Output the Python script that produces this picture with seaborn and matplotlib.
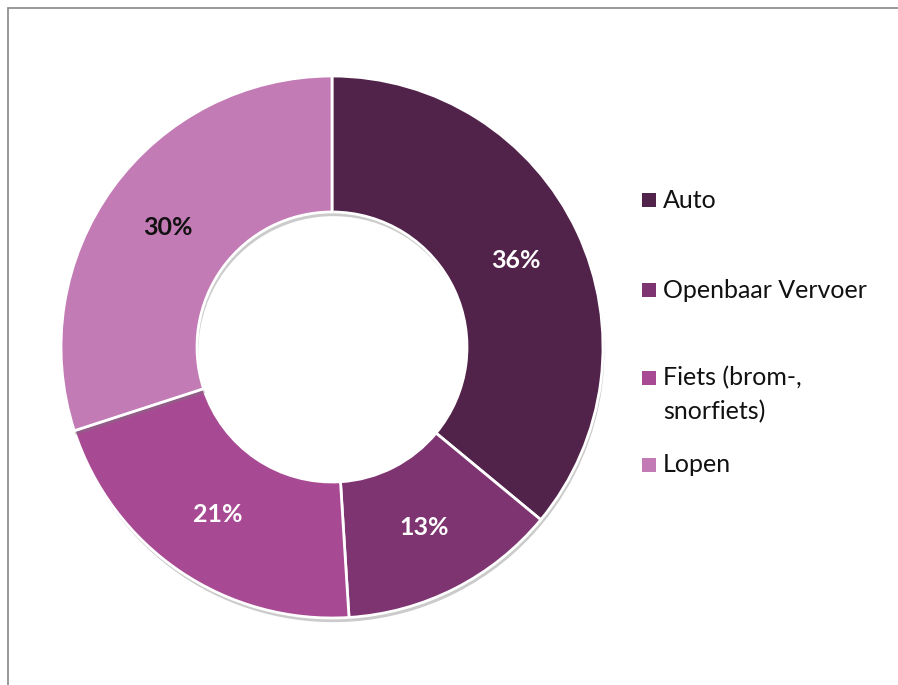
import matplotlib
matplotlib.use("Agg")
import matplotlib.pyplot as plt
import matplotlib.patheffects as pe
from matplotlib.patches import Rectangle
from matplotlib.lines import Line2D
import seaborn as sns

# Vervoerswijze verdeling
categories = ["Auto", "Openbaar Vervoer", "Fiets (brom-,\nsnorfiets)", "Lopen"]
shares = [36, 13, 21, 30]
colors = ["#52234A", "#7E3470", "#A84A93", "#C27BB4"]
label_colors = ["white", "white", "white", "#111111"]

sns.set_theme(style="white")
plt.rcParams["font.family"] = ["Lato", "DejaVu Sans"]

W, H = 898, 685
fig = plt.figure(figsize=(W / 100, H / 100), dpi=100)
ax = fig.add_axes([0, 0, 1, 1])

cx, cy = 332, H - 347
R = 271
ring = 136

wedges, _, autotexts = ax.pie(
    shares,
    colors=colors,
    startangle=90,
    counterclock=False,
    center=(cx, cy),
    radius=R,
    autopct=lambda p: f"{p:.0f}%",
    pctdistance=(R - ring / 2) / R,
    wedgeprops=dict(width=ring, edgecolor="white", linewidth=2),
    textprops=dict(fontsize=18, fontweight="bold"),
)
ax.set_xlim(0, W)
ax.set_ylim(0, H)
ax.set_aspect("auto")
ax.set_axis_off()

for w in wedges:
    w.set_path_effects([
        pe.SimplePatchShadow(offset=(1, -3), shadow_rgbFace="#777777", alpha=0.38),
        pe.Normal(),
    ])
for t, c in zip(autotexts, label_colors):
    t.set_color(c)

# Legend: square marker beside the first line of each label
legend_x = 642
legend_y = [200, 290, 378, 465]
line_step = 34
sq = 14
for name, col, y in zip(categories, colors, legend_y):
    ax.add_patch(Rectangle((legend_x, H - y - sq / 2), sq, sq,
                           facecolor=col, edgecolor="none"))
    for i, line in enumerate(name.split("\n")):
        ax.text(legend_x + sq + 7, H - y - i * line_step, line, fontsize=18,
                color="#111111", va="center", ha="left")

# Chart area border (left and top)
ax.add_line(Line2D([8, 8], [-5, H - 7.5], color="#888888", linewidth=1.2))
ax.add_line(Line2D([8, W + 5], [H - 7.5, H - 7.5], color="#888888", linewidth=1.2))

fig.savefig("out.png", dpi=100)
